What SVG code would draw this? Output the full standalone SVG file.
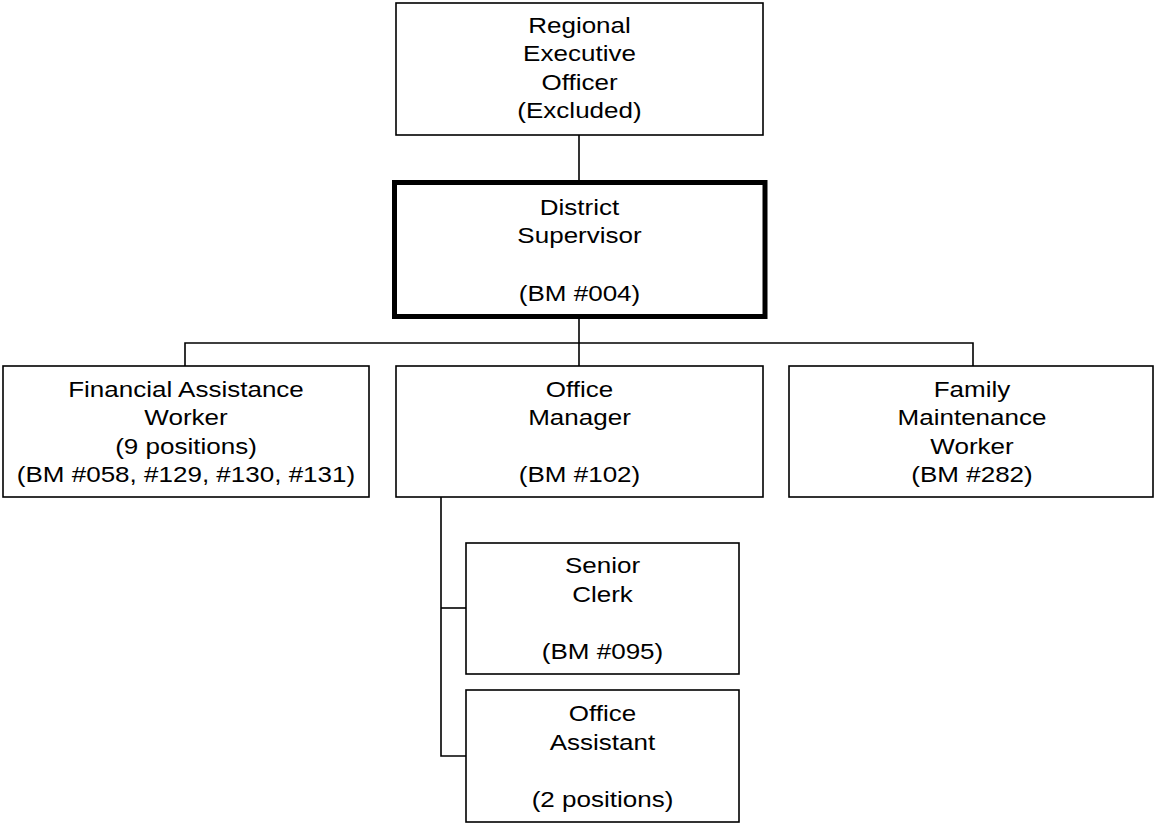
<svg xmlns="http://www.w3.org/2000/svg" width="1156" height="825" viewBox="0 0 1156 825">
<style>
.box{fill:#fff;stroke:#000;stroke-width:1.6}
.thick{fill:#fff;stroke:#000;stroke-width:5}
.conn{fill:none;stroke:#000;stroke-width:1.6}
text{font-family:"Liberation Sans",Arial,sans-serif;font-size:21.5px;fill:#000;text-anchor:middle}
</style>
<rect width="1156" height="825" fill="#fff"/>
<g id="connectors">
<line class="conn" x1="579" y1="135" x2="579" y2="183"/>
<line class="conn" x1="579" y1="318" x2="579" y2="366"/>
<polyline class="conn" points="185,366 185,343 973,343 973,366"/>
<polyline class="conn" points="441,497 441,756 466,756"/>
<line class="conn" x1="441" y1="608" x2="466" y2="608"/>
</g>
<g id="n-reo">
<rect class="box" x="396" y="3" width="367" height="132"/>
<g transform="translate(579.5 0) scale(1.21 1)">
<text x="0" y="33">Regional</text>
<text x="0" y="61.5">Executive</text>
<text x="0" y="90">Officer</text>
<text x="0" y="118.5">(Excluded)</text>
</g>
</g>
<g id="n-ds">
<rect class="thick" x="394.5" y="182.5" width="370.5" height="134"/>
<g transform="translate(579.5 0) scale(1.21 1)">
<text x="0" y="215">District</text>
<text x="0" y="243.5">Supervisor</text>
<text x="0" y="301">(BM #004)</text>
</g>
</g>
<g id="n-faw">
<rect class="box" x="3" y="366" width="366" height="131"/>
<g transform="translate(186 0) scale(1.21 1)">
<text x="0" y="396.7">Financial Assistance</text>
<text x="0" y="425.2">Worker</text>
<text x="0" y="453.7">(9 positions)</text>
<text x="0" y="482">(BM #058, #129, #130, #131)</text>
</g>
</g>
<g id="n-om">
<rect class="box" x="396" y="366" width="367" height="131"/>
<g transform="translate(579.5 0) scale(1.21 1)">
<text x="0" y="396.7">Office</text>
<text x="0" y="425.2">Manager</text>
<text x="0" y="482">(BM #102)</text>
</g>
</g>
<g id="n-fmw">
<rect class="box" x="789" y="366" width="364" height="131"/>
<g transform="translate(972 0) scale(1.21 1)">
<text x="0" y="396.7">Family</text>
<text x="0" y="425.2">Maintenance</text>
<text x="0" y="453.7">Worker</text>
<text x="0" y="482">(BM #282)</text>
</g>
</g>
<g id="n-sc">
<rect class="box" x="466" y="543" width="273" height="131"/>
<g transform="translate(602.5 0) scale(1.21 1)">
<text x="0" y="573.3">Senior</text>
<text x="0" y="601.8">Clerk</text>
<text x="0" y="659">(BM #095)</text>
</g>
</g>
<g id="n-oa">
<rect class="box" x="466" y="690" width="273" height="132"/>
<g transform="translate(602.5 0) scale(1.21 1)">
<text x="0" y="721.5">Office</text>
<text x="0" y="750">Assistant</text>
<text x="0" y="807.5">(2 positions)</text>
</g>
</g>
</svg>
